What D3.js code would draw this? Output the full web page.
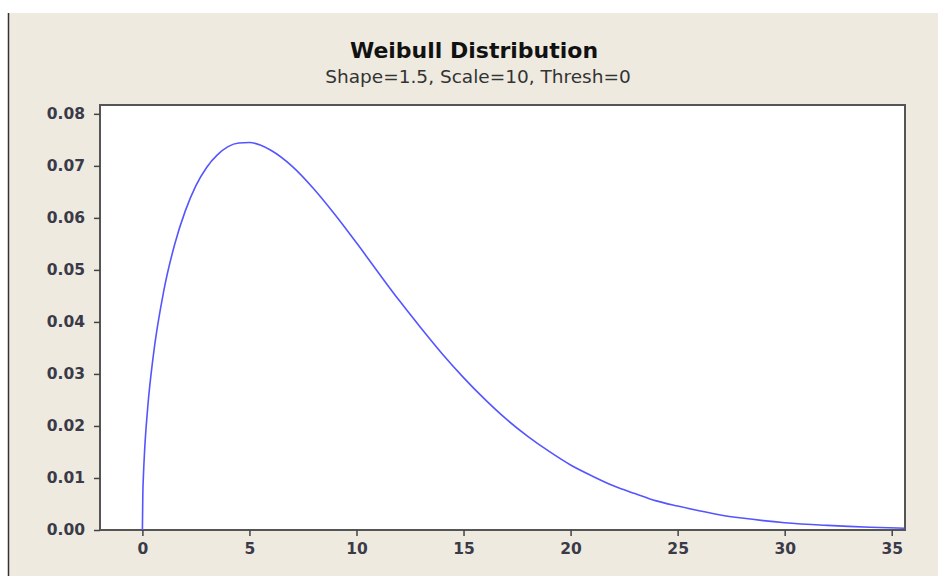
<!DOCTYPE html>
<html>
<head>
<meta charset="utf-8">
<script src="https://cdn.jsdelivr.net/npm/d3@7"></script>
<style>
  body { margin:0; background:#fff; }
  svg text { font-family: "DejaVu Sans", Verdana, sans-serif; }
</style>
</head>
<body>
<div id="chart"></div>
<script>
// values (x, density)
var xVals = [0, 0.02, 0.05, 0.1, 0.25, 0.5, 1, 1.5, 2, 2.5, 3, 3.5, 4, 4.5, 5, 5.5, 6, 7, 8, 9, 10,
             11, 12, 13, 14, 15, 16, 17, 18, 19, 20, 21, 22, 23, 24, 25, 26, 27, 28, 29, 30, 32, 34, 35.6];
var density = [0, 0.0067, 0.0106, 0.0150, 0.0236, 0.0332, 0.0460, 0.0548, 0.0613, 0.0662, 0.0697, 0.0721,
               0.0737, 0.0744, 0.0745, 0.0740, 0.0730, 0.0699, 0.0656, 0.0606, 0.0552,
               0.0496, 0.0441, 0.0389, 0.0339, 0.0293, 0.0251, 0.0213, 0.0180, 0.0151, 0.0125,
               0.0104, 0.0085, 0.0070, 0.0056, 0.0046, 0.0037, 0.0029, 0.0023, 0.0018, 0.0014,
               0.00088, 0.00052, 0.00034];
var xTicks = [0, 5, 10, 15, 20, 25, 30, 35];
var yTicks = [0, 0.01, 0.02, 0.03, 0.04, 0.05, 0.06, 0.07, 0.08];

var width = 938, height = 576;
var margin = {left:100, right:33, top:105, bottom:46};

var svg = d3.select("#chart").append("svg")
    .attr("width", width).attr("height", height);

// panel background
svg.append("rect").attr("x", 9).attr("y", 13).attr("width", width - 9).attr("height", height - 13)
    .attr("fill", "#eeeae0");
svg.append("line").attr("x1", 8.5).attr("x2", 8.5).attr("y1", 13).attr("y2", height)
    .attr("stroke", "#333").attr("stroke-width", 1.5);

var x = d3.scaleLinear()
    .domain([-1.98, 35.62])
    .range([margin.left, width - margin.right]);

var y = d3.scaleLinear()
    .domain([0, 0.0817])
    .range([height - margin.bottom, margin.top]);

svg.append("rect")
    .attr("x", margin.left).attr("y", margin.top)
    .attr("width", width - margin.left - margin.right)
    .attr("height", height - margin.top - margin.bottom)
    .attr("fill", "#fff")
    .attr("stroke", "#555").attr("stroke-width", 2);

var xAxis = d3.axisBottom(x).tickValues(xTicks).tickSize(6).tickPadding(7).tickSizeOuter(0);
var yAxis = d3.axisLeft(y).tickValues(yTicks).tickFormat(d3.format(".2f")).tickSize(6).tickPadding(9).tickSizeOuter(0);

var gx = svg.append("g").attr("class", "axis x")
    .attr("transform", "translate(0," + (height - margin.bottom) + ")")
    .call(xAxis);
var gy = svg.append("g").attr("class", "axis y")
    .attr("transform", "translate(" + margin.left + ",0)")
    .call(yAxis);

[gx, gy].forEach(function(g){
  g.select(".domain").remove();
  g.selectAll(".tick line").attr("stroke", "#444").attr("stroke-width", 1.5);
  g.selectAll(".tick text")
    .attr("fill", "#3a3a48")
    .attr("font-size", 15.5)
    .attr("font-weight", "bold")
    .style("font-family", "'DejaVu Sans', Verdana, sans-serif");
});

var line = d3.line()
    .x(function(d, i){ return x(xVals[i]); })
    .y(function(d){ return y(d); })
    .curve(d3.curveMonotoneX);

svg.append("path")
    .datum(density)
    .attr("fill", "none")
    .attr("stroke", "#5555ff")
    .attr("stroke-width", 1.6)
    .attr("d", line);

svg.append("text")
    .attr("x", 474).attr("y", 58)
    .attr("text-anchor", "middle")
    .attr("font-size", 22).attr("font-weight", "bold")
    .attr("fill", "#111")
    .text("Weibull Distribution");

svg.append("text")
    .attr("x", 478).attr("y", 83)
    .attr("text-anchor", "middle")
    .attr("font-size", 18.5)
    .attr("fill", "#333")
    .text("Shape=1.5, Scale=10, Thresh=0");
</script>
</body>
</html>
